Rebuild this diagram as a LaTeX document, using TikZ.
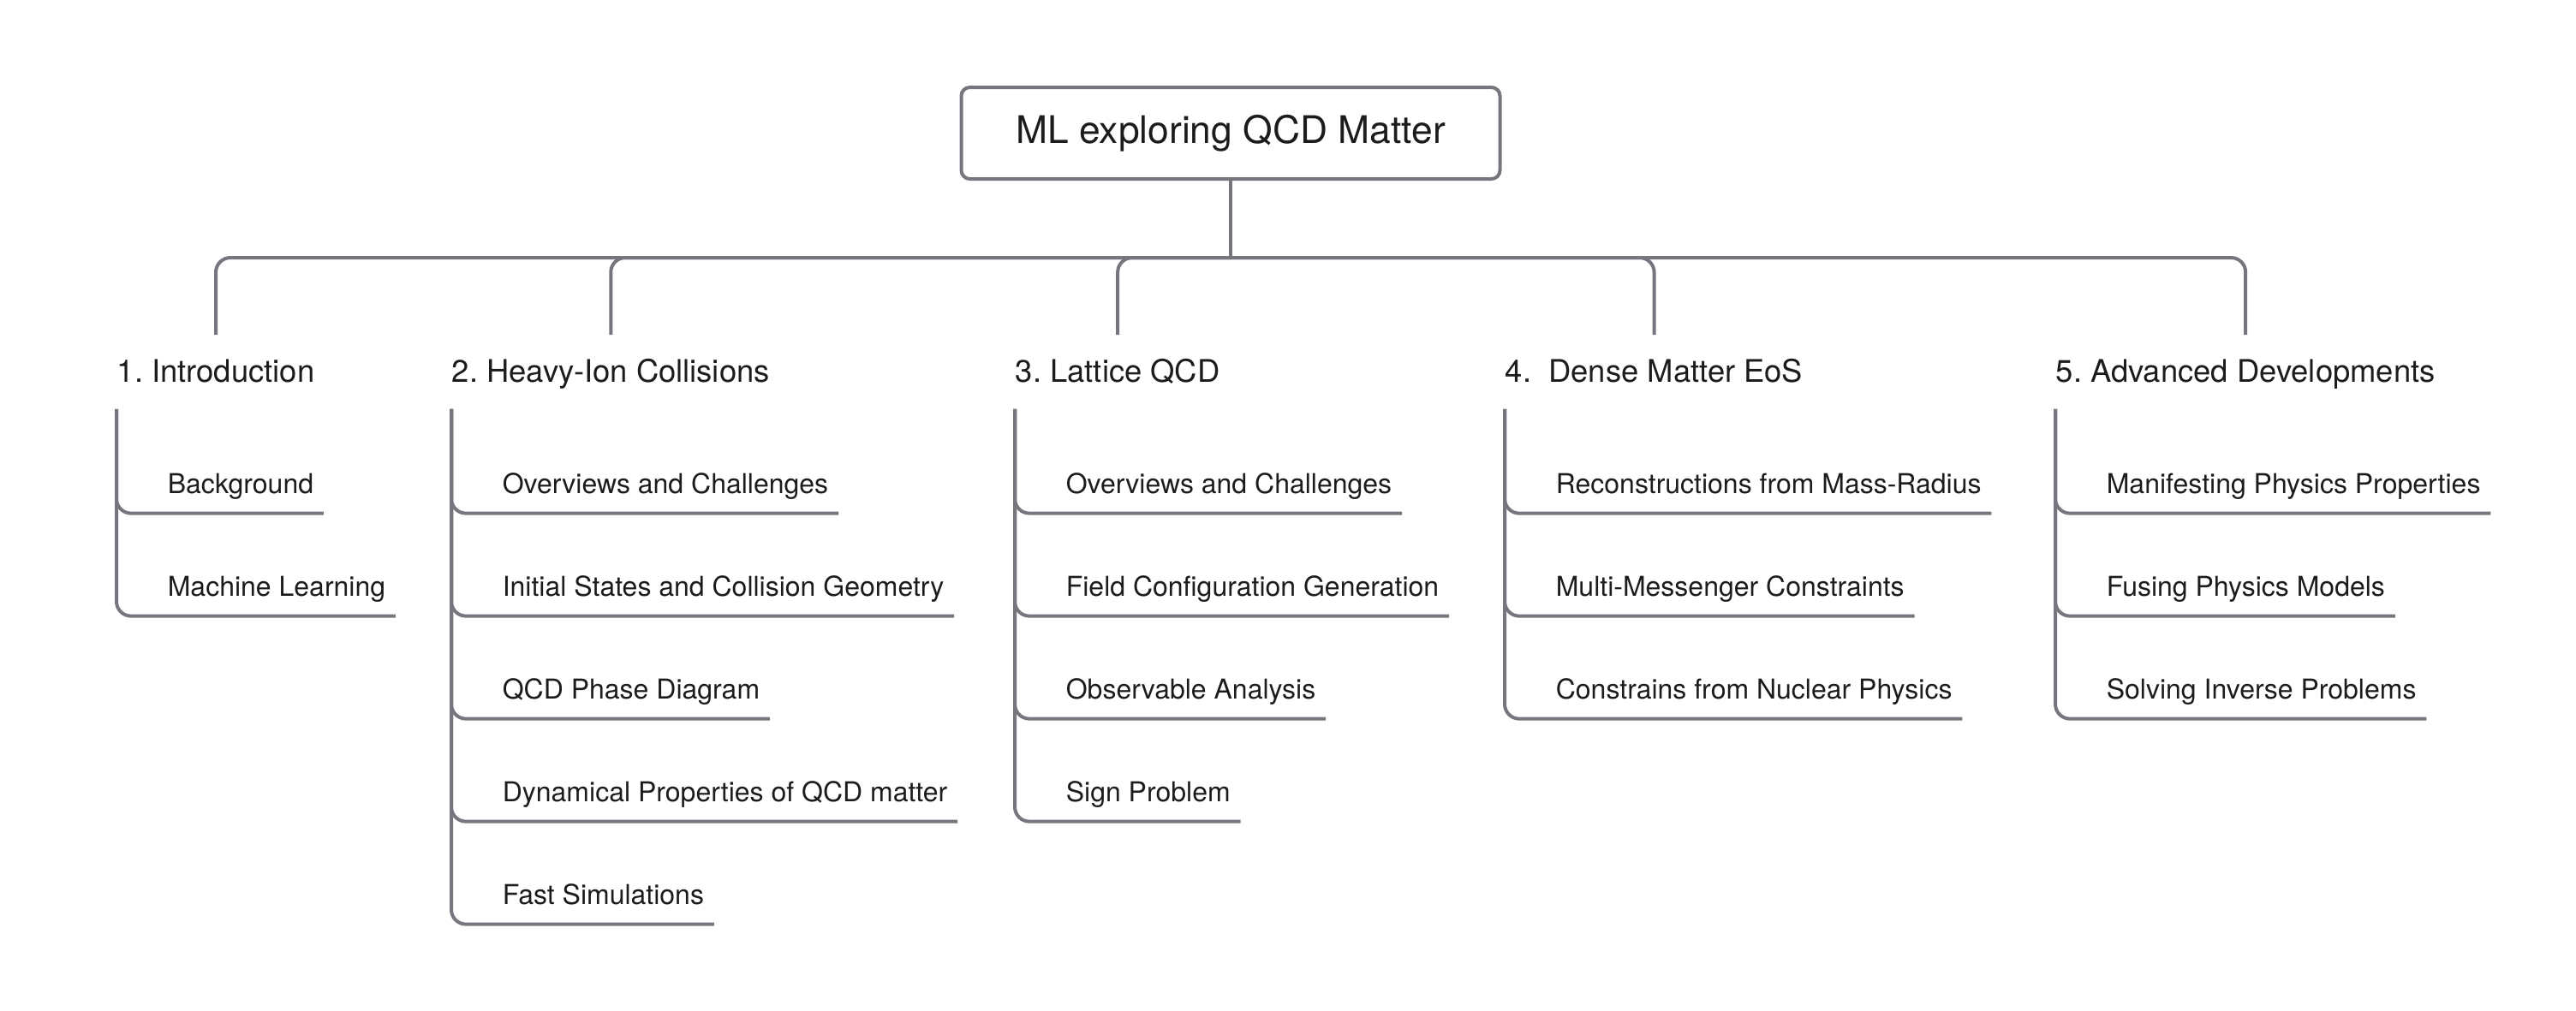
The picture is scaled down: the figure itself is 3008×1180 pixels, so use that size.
\documentclass[tikz,border=0pt]{standalone}
\usepackage{fontspec}
\setmainfont{TeX Gyre Heros}
\usetikzlibrary{calc}
\frenchspacing

\definecolor{lineColour}{HTML}{76767E}
\definecolor{textColour}{HTML}{1C1C1C}

\tikzset{
    topic/.style={draw=lineColour, line width=1pt, rounded corners=2.5pt,
        minimum width=157.25pt, minimum height=26.75pt, inner sep=0pt,
        font=\fontsize{11.1}{13}\selectfont, text=textColour},
    section/.style={anchor=base west, inner sep=0pt, text height=7pt, text depth=2pt,
        font=\fontsize{9.1}{11}\selectfont, text=textColour},
    leaf/.style={anchor=base west, inner sep=0pt, text height=6pt, text depth=5.5pt,
        font=\fontsize{8}{10}\selectfont, text=textColour},
    branch/.style={draw=lineColour, line width=1pt, rounded corners=4.25pt},
}

\begin{document}
\begin{tikzpicture}[x=0.25pt, y=-0.25pt]
    % Canvas in pixels of the reference
    \useasboundingbox (0,0) rectangle (3008,1180);

    % Central topic
    \node[topic] (root) at (1437,155.5) {ML exploring QCD Matter};
    \coordinate (bus) at (1437,301);
    \draw[branch] (root.south) -- (bus);

    % Main sections
    \foreach \i/\x/\title in {1/136/{1. Introduction},
                             2/527/{2. Heavy-Ion Collisions},
                             3/1185/{3. Lattice QCD},
                             4/1757/{4.~~Dense Matter EoS},
                             5/2400/{5. Advanced Developments}} {
        \node[section] (s\i) at (\x,446) {\title};
        \draw[branch] (bus) -| ([yshift=6.5pt]s\i.north);
        \coordinate (s\i top) at ([yshift=-5.75pt]s\i.south west);
    }

    % Subtopics, underlined
    \foreach \s/\j/\leafText in {1/1/Background,
                                1/2/Machine Learning,
                                2/1/Overviews and Challenges,
                                2/2/Initial States and Collision Geometry,
                                2/3/QCD Phase Diagram,
                                2/4/Dynamical Properties of QCD matter,
                                2/5/Fast Simulations,
                                3/1/Overviews and Challenges,
                                3/2/Field Configuration Generation,
                                3/3/Observable Analysis,
                                3/4/Sign Problem,
                                4/1/Reconstructions from Mass-Radius,
                                4/2/Multi-Messenger Constraints,
                                4/3/Constrains from Nuclear Physics,
                                5/1/Manifesting Physics Properties,
                                5/2/Fusing Physics Models,
                                5/3/Solving Inverse Problems} {
        \node[leaf] (s\s-\j) at ($(s\s top)+(59,{99+120*(\j-1)})$) {\leafText};
        \draw[branch] (s\s top) |- ([xshift=2.75pt]s\s-\j.south east);
    }

\end{tikzpicture}
\end{document}
